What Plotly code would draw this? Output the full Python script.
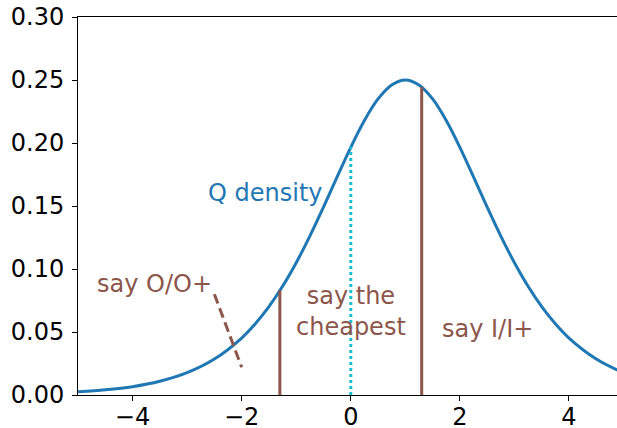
import plotly.graph_objects as go

# density curve
x_vals = [-5, -4.5, -4, -3.5, -3, -2.5, -2, -1.75, -1.5, -1.25, -1, -0.75, -0.5, -0.25,
          0, 0.25, 0.5, 0.75, 1, 1.25, 1.5, 1.75, 2, 2.25, 2.5, 2.75, 3, 3.25, 3.5,
          3.75, 4, 4.5, 4.9]
density = [0.0025, 0.0041, 0.0066, 0.0109, 0.0177, 0.0285, 0.0452, 0.0565, 0.0701,
           0.0863, 0.1050, 0.1261, 0.1491, 0.1731, 0.1966, 0.2179, 0.2350, 0.2461,
           0.2500, 0.2461, 0.2350, 0.2179, 0.1966, 0.1731, 0.1491, 0.1261, 0.1050,
           0.0863, 0.0701, 0.0565, 0.0452, 0.0285, 0.0195]

# vertical cut lines
cut_left_x = -1.3
cut_left_h = 0.083
mid_x = 0.0
mid_h = 0.197
cut_right_x = 1.3
cut_right_h = 0.2445

# dashed pointer line
dash_x = [-2.5, -2.0]
dash_y = [0.08, 0.022]

# labels
label_text = ["Q density", "say O/O+", "say the<br>cheapest", "say I/I+"]
label_x = [-1.57, -3.6, 0.0, 2.5]
label_y = [0.160, 0.088, 0.066, 0.052]
label_color = ["#1f77b4", "#8c564b", "#8c564b", "#8c564b"]

x_ticks = [-4, -2, 0, 2, 4]
x_tick_text = ["\u22124", "\u22122", "0", "2", "4"]
y_ticks = [0.0, 0.05, 0.10, 0.15, 0.20, 0.25, 0.30]
y_tick_text = ["0.00", "0.05", "0.10", "0.15", "0.20", "0.25", "0.30"]

BROWN = "#8c564b"
fig = go.Figure()
fig.add_trace(go.Scatter(x=x_vals, y=density, mode="lines",
                         line=dict(color="#1f77b4", width=3, shape="spline"),
                         showlegend=False, hoverinfo="skip"))
fig.add_trace(go.Scatter(x=[cut_left_x, cut_left_x], y=[0, cut_left_h], mode="lines",
                         line=dict(color=BROWN, width=3), showlegend=False))
fig.add_trace(go.Scatter(x=[cut_right_x, cut_right_x], y=[0, cut_right_h], mode="lines",
                         line=dict(color=BROWN, width=3), showlegend=False))
fig.add_trace(go.Scatter(x=[mid_x, mid_x], y=[0, mid_h], mode="lines",
                         line=dict(color="#17becf", width=3, dash="3px,3px"), showlegend=False))
fig.add_trace(go.Scatter(x=dash_x, y=dash_y, mode="lines",
                         line=dict(color=BROWN, width=3, dash="10px,5px"), showlegend=False))

for t, xx, yy, c in zip(label_text, label_x, label_y, label_color):
    fig.add_annotation(x=xx, y=yy, text=t, showarrow=False,
                       font=dict(family="DejaVu Sans", size=24, color=c),
                       xanchor="center", yanchor="middle")

fig.update_layout(
    width=617, height=428,
    margin=dict(l=78, r=0, t=17, b=33, pad=0),
    plot_bgcolor="white", paper_bgcolor="white",
    font=dict(family="DejaVu Sans", size=24, color="black"),
)
fig.update_xaxes(range=[-5, 4.88], tickvals=x_ticks, ticktext=x_tick_text,
                 showgrid=False, zeroline=False, showline=True, linecolor="black",
                 linewidth=1, mirror=True, ticks="outside", ticklen=5, tickcolor="black",
                 automargin=False, ticklabelstandoff=-5, ticklabeloverflow="allow")
fig.update_yaxes(range=[0, 0.30], tickvals=y_ticks, ticktext=y_tick_text,
                 showgrid=False, zeroline=False, showline=True, linecolor="black",
                 linewidth=1, ticks="outside", ticklen=5, tickcolor="black",
                 automargin=False, ticklabelstandoff=3, ticklabeloverflow="allow")

fig.write_html(
    "out.html",
    config={"displayModeBar": False},
    post_script="document.body.style.margin='0';document.body.style.overflow='hidden';",
)
